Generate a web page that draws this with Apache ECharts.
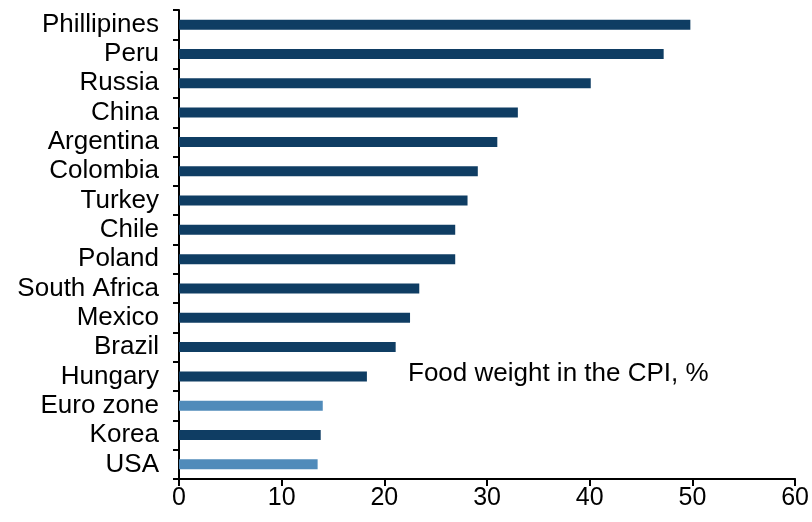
<!DOCTYPE html>
<html>
<head>
<meta charset="utf-8">
<script src="https://cdn.jsdelivr.net/npm/echarts@6/dist/echarts.min.js"></script>
<style>
  html, body { margin: 0; padding: 0; background: #fff; }
  #chart { width: 812px; height: 522px; }
</style>
</head>
<body>
<div id="chart"></div>
<script>
var countries = ['Phillipines', 'Peru', 'Russia', 'China', 'Argentina', 'Colombia', 'Turkey', 'Chile',
  'Poland', 'South Africa', 'Mexico', 'Brazil', 'Hungary', 'Euro zone', 'Korea', 'USA'];
var foodWeight = [49.8, 47.2, 40.1, 33.0, 31.0, 29.1, 28.1, 26.9, 26.9, 23.4, 22.5, 21.1, 18.3, 14.0, 13.8, 13.5];
var xTicks = [0, 10, 20, 30, 40, 50, 60];
var lightBars = ['Euro zone', 'USA'];

var myChart = echarts.init(document.getElementById('chart'));
var font = 'Liberation Sans, Arial, sans-serif';

var option = {
  animation: false,
  grid: { left: 179, right: 13, top: 10, bottom: 43 },
  xAxis: {
    type: 'value',
    min: xTicks[0],
    max: xTicks[xTicks.length - 1],
    interval: 10,
    axisLine: { show: true, lineStyle: { color: '#000', width: 2 } },
    axisTick: { show: true, length: 7, lineStyle: { color: '#000', width: 2 } },
    axisLabel: { color: '#000', fontSize: 25, fontFamily: font, margin: 7 },
    splitLine: { show: false }
  },
  yAxis: {
    type: 'category',
    inverse: true,
    data: countries,
    axisLine: { show: true, lineStyle: { color: '#000', width: 2 } },
    axisTick: { show: true, length: 6, lineStyle: { color: '#000', width: 2 } },
    axisLabel: { color: '#000', fontSize: 26, fontFamily: font, margin: 20, interval: 0 }
  },
  graphic: [{
    type: 'text',
    left: 408,
    top: 361,
    style: { text: 'Food weight in the CPI, %', fontSize: 26, fontFamily: font, fill: '#000' }
  }],
  series: [{
    type: 'bar',
    barWidth: 10,
    data: foodWeight.map(function (v, i) {
      return {
        value: v,
        itemStyle: { color: lightBars.indexOf(countries[i]) >= 0 ? '#508bba' : '#0f3d63' }
      };
    })
  }]
};
myChart.setOption(option);
</script>
</body>
</html>
